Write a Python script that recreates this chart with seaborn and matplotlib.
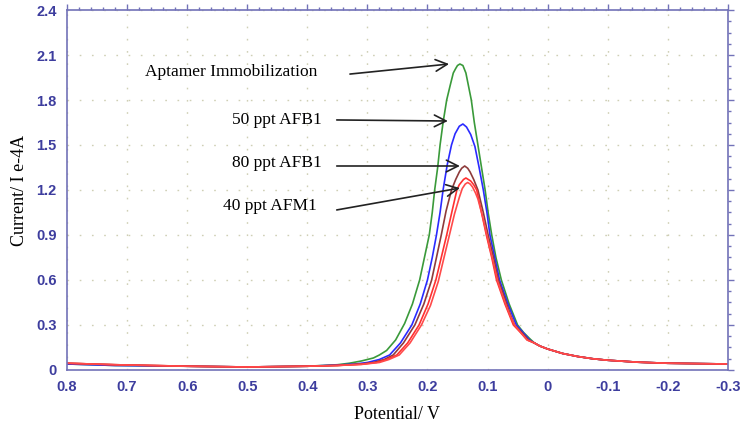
import matplotlib
matplotlib.use('Agg')
import matplotlib.pyplot as plt
from matplotlib.ticker import MultipleLocator, FuncFormatter
import seaborn as sns
import pandas as pd

# Differential pulse voltammograms (potential in V, current in 1e-4 A)
green_v = [0.80, 0.72, 0.60, 0.50, 0.40, 0.35, 0.33, 0.31, 0.29, 0.28, 0.268, 0.253, 0.238,
           0.225, 0.213, 0.205, 0.197, 0.192, 0.188, 0.183, 0.179, 0.174, 0.168, 0.162, 0.157,
           0.153, 0.150, 0.146, 0.141, 0.136, 0.132, 0.127, 0.122, 0.116, 0.110, 0.104, 0.099,
           0.093, 0.086, 0.077, 0.064, 0.057, 0.050, 0.040, 0.030, 0.022, 0.013, 0.0, -0.025,
           -0.05, -0.075, -0.10, -0.15, -0.20, -0.30]
green_i = [0.04, 0.03, 0.025, 0.02, 0.025, 0.035, 0.045, 0.06, 0.08, 0.10, 0.13, 0.20, 0.31,
           0.44, 0.60, 0.75, 0.90, 1.05, 1.20, 1.35, 1.50, 1.65, 1.80, 1.90, 1.98,
           2.01, 2.03, 2.04, 2.03, 1.98, 1.90, 1.80, 1.65, 1.50, 1.35, 1.20, 1.05,
           0.90, 0.75, 0.60, 0.44, 0.37, 0.30, 0.25, 0.21, 0.18, 0.16, 0.14, 0.11,
           0.09, 0.075, 0.065, 0.052, 0.045, 0.04]

blue_v = [0.80, 0.72, 0.60, 0.50, 0.40, 0.35, 0.32, 0.30, 0.28, 0.263, 0.245, 0.226, 0.212,
          0.200, 0.192, 0.185, 0.179, 0.174, 0.167, 0.160, 0.154, 0.147, 0.141, 0.135, 0.128,
          0.121, 0.114, 0.107, 0.101, 0.096, 0.088, 0.080, 0.066, 0.059, 0.052, 0.041, 0.030,
          0.022, 0.013, 0.0, -0.025, -0.05, -0.075, -0.10, -0.15, -0.20, -0.30]
blue_i = [0.04, 0.03, 0.025, 0.02, 0.025, 0.033, 0.04, 0.05, 0.07, 0.10, 0.18, 0.30, 0.44,
          0.60, 0.75, 0.90, 1.05, 1.20, 1.37, 1.50, 1.575, 1.625, 1.64, 1.62, 1.57,
          1.49, 1.35, 1.20, 1.05, 0.90, 0.75, 0.60, 0.44, 0.37, 0.30, 0.25, 0.20,
          0.18, 0.16, 0.14, 0.11, 0.09, 0.075, 0.065, 0.052, 0.045, 0.04]

brown_v = [0.80, 0.72, 0.60, 0.50, 0.40, 0.35, 0.31, 0.29, 0.272, 0.257, 0.240, 0.221, 0.206,
           0.193, 0.185, 0.177, 0.169, 0.160, 0.153, 0.147, 0.143, 0.138, 0.133, 0.129, 0.123,
           0.116, 0.107, 0.099, 0.090, 0.082, 0.068, 0.062, 0.055, 0.043, 0.032, 0.022, 0.013,
           0.0, -0.025, -0.05, -0.075, -0.10, -0.15, -0.20, -0.30]
brown_i = [0.045, 0.035, 0.025, 0.02, 0.025, 0.03, 0.04, 0.05, 0.07, 0.10, 0.18, 0.30, 0.44,
           0.60, 0.75, 0.90, 1.06, 1.20, 1.27, 1.32, 1.345, 1.36, 1.345, 1.32, 1.27,
           1.20, 1.05, 0.90, 0.75, 0.60, 0.44, 0.37, 0.30, 0.25, 0.20, 0.18, 0.16,
           0.14, 0.11, 0.09, 0.075, 0.065, 0.052, 0.045, 0.04]

red_v = [0.80, 0.72, 0.60, 0.50, 0.40, 0.35, 0.31, 0.285, 0.268, 0.251, 0.233, 0.214, 0.199,
         0.186, 0.177, 0.168, 0.159, 0.151, 0.147, 0.140, 0.136, 0.132, 0.128, 0.123, 0.118,
         0.110, 0.102, 0.093, 0.085, 0.071, 0.064, 0.057, 0.045, 0.034, 0.022, 0.013, 0.0,
         -0.025, -0.05, -0.075, -0.10, -0.15, -0.20, -0.30]
red_i = [0.045, 0.035, 0.025, 0.02, 0.025, 0.03, 0.038, 0.05, 0.07, 0.10, 0.18, 0.30, 0.44,
         0.60, 0.75, 0.90, 1.06, 1.20, 1.235, 1.27, 1.28, 1.27, 1.26, 1.235, 1.20,
         1.05, 0.90, 0.75, 0.60, 0.44, 0.37, 0.30, 0.25, 0.20, 0.18, 0.16, 0.14,
         0.11, 0.09, 0.075, 0.065, 0.052, 0.045, 0.04]

red2_v = [0.80, 0.72, 0.60, 0.50, 0.40, 0.35, 0.31, 0.28, 0.264, 0.247, 0.229, 0.210, 0.195,
          0.182, 0.173, 0.164, 0.155, 0.147, 0.142, 0.137, 0.133, 0.129, 0.125, 0.120, 0.116,
          0.108, 0.100, 0.091, 0.083, 0.069, 0.062, 0.055, 0.045, 0.034, 0.022, 0.013, 0.0,
          -0.025, -0.05, -0.075, -0.10, -0.15, -0.20, -0.30]
red2_i = [0.045, 0.035, 0.025, 0.02, 0.025, 0.03, 0.037, 0.05, 0.07, 0.10, 0.18, 0.30, 0.43,
          0.59, 0.74, 0.89, 1.04, 1.15, 1.21, 1.24, 1.25, 1.24, 1.22, 1.18, 1.14,
          1.02, 0.88, 0.73, 0.59, 0.43, 0.36, 0.30, 0.25, 0.20, 0.18, 0.16, 0.14,
          0.11, 0.09, 0.075, 0.065, 0.052, 0.045, 0.04]

series = [
    ("green", green_v, green_i, "#3a9a3a"),
    ("blue", blue_v, blue_i, "#2a2aff"),
    ("brown", brown_v, brown_i, "#8e3b3b"),
    ("red", red_v, red_i, "#ff3030"),
    ("red2", red2_v, red2_i, "#ff4a4a"),
]

# annotation labels: text, text anchor (V, I), arrow tail, arrow head
labels = ["Aptamer Immobilization", "50 ppt AFB1", "80 ppt AFB1", "40 ppt AFM1"]
label_xy = [(0.670, 1.99), (0.376, 1.667), (0.376, 1.38), (0.384, 1.09)]
label_ha = ["left", "right", "right", "right"]
arrow_tail = [(0.329, 1.973), (0.351, 1.667), (0.351, 1.36), (0.351, 1.067)]
arrow_head = [(0.164, 2.04), (0.166, 1.66), (0.146, 1.36), (0.146, 1.213)]

sns.set_style("white")
plt.rcParams['font.family'] = ['Liberation Sans', 'DejaVu Sans']

axis_col = "#7272b8"
tick_col = "#3d3d9e"

fig = plt.figure(figsize=(7.42, 4.26), dpi=100)
ax = fig.add_axes([0.0903, 0.1315, 0.8906, 0.845])

for name, v, i, col in series:
    df = pd.DataFrame({"potential": v, "current": i})
    sns.lineplot(data=df, x="potential", y="current", ax=ax, color=col,
                 lw=1.2, estimator=None, sort=True)

ax.set_xlim(0.8, -0.3)
ax.set_ylim(0, 2.4)

ax.xaxis.set_major_locator(MultipleLocator(0.1))
ax.xaxis.set_minor_locator(MultipleLocator(0.02))
ax.yaxis.set_major_locator(MultipleLocator(0.3))
ax.yaxis.set_minor_locator(MultipleLocator(0.075))

fmt = FuncFormatter(lambda x, p: "0" if abs(x) < 1e-9 else f"{x:.1f}")
ax.xaxis.set_major_formatter(fmt)
ax.yaxis.set_major_formatter(fmt)

ax.grid(True, which="major", color="#cfcfb5", linestyle=(0, (1.2, 7.6)), lw=1.0)

for s in ax.spines.values():
    s.set_color(axis_col)
    s.set_linewidth(1.2)

ax.tick_params(which="both", direction="out", color=axis_col, top=True, right=True,
               labeltop=False, labelright=False)
ax.tick_params(which="major", length=4.5, width=1.0, labelsize=10.5, labelcolor=tick_col)
ax.tick_params(which="minor", length=2.2, width=1.0)
ax.tick_params(axis="y", which="major", pad=3)
ax.tick_params(axis="x", which="major", pad=3)
for lab in ax.get_xticklabels() + ax.get_yticklabels():
    lab.set_fontweight("bold")

serif = ['Liberation Serif', 'DejaVu Serif']
ax.set_xlabel("Potential/ V", family=serif, fontsize=13, color="black", labelpad=8)
ax.set_ylabel("Current/ I e-4A", family=serif, fontsize=13, color="black", labelpad=6)

for txt, xy, ha, tail, head in zip(labels, label_xy, label_ha, arrow_tail, arrow_head):
    ax.text(xy[0], xy[1], txt, ha=ha, va="center", family=serif, fontsize=12.5, color="black")
    ax.annotate("", xy=head, xytext=tail,
                arrowprops=dict(arrowstyle="->", color="#222222", lw=1.2,
                                mutation_scale=21, shrinkA=0, shrinkB=0))

fig.savefig("out.png", dpi=100)
plt.close(fig)
